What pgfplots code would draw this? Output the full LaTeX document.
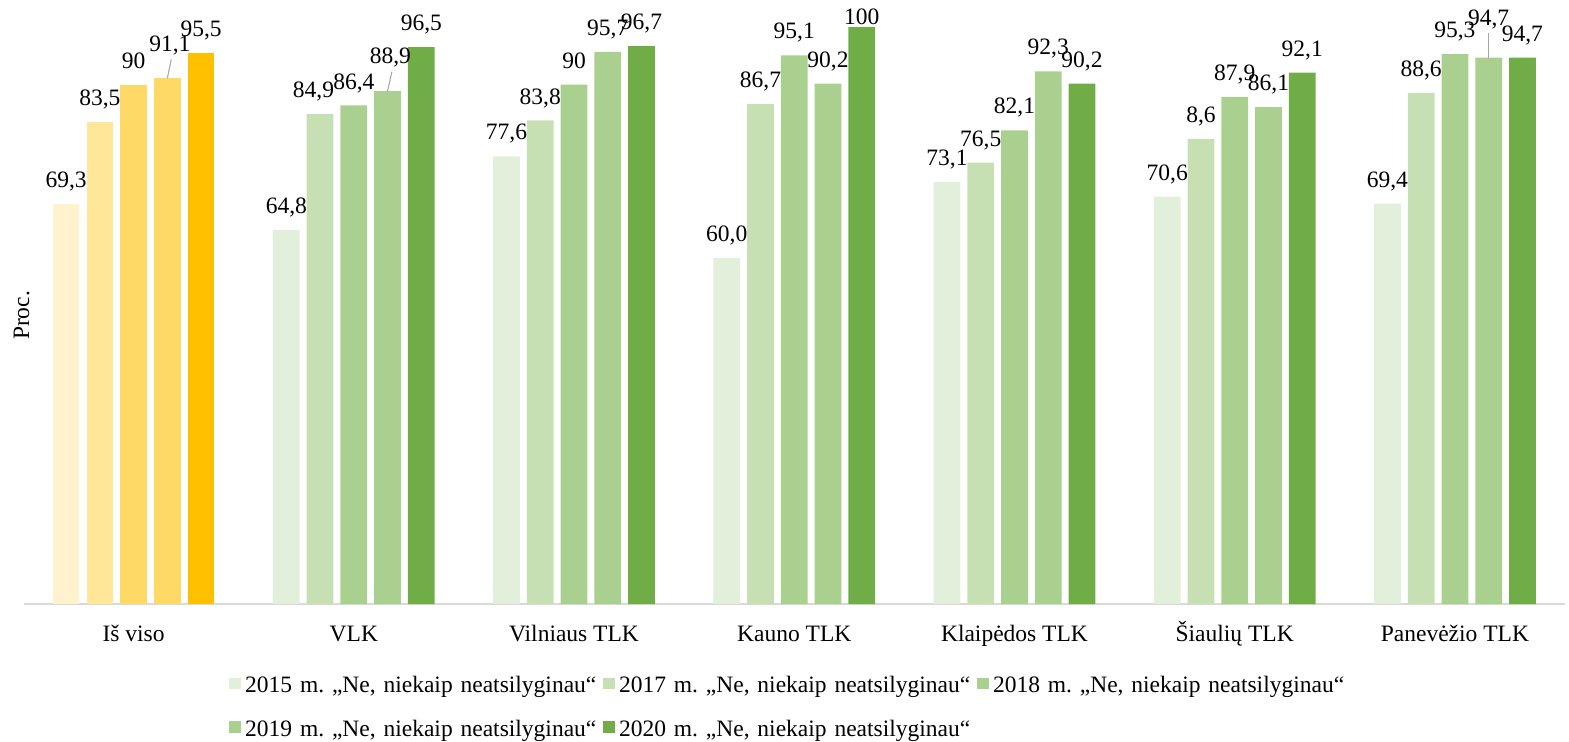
\documentclass[border=0pt]{standalone}
\usepackage{fontspec}
\setmainfont{Liberation Serif}
\usepackage{pgfplots}
\usepackage{pgfplotstable}
\pgfplotsset{compat=1.18}

\definecolor{yA}{HTML}{FFF2CC}
\definecolor{yB}{HTML}{FFE699}
\definecolor{yC}{HTML}{FFD966}
\definecolor{yD}{HTML}{FFD966}
\definecolor{yE}{HTML}{FFC000}
\definecolor{gA}{HTML}{E2EFDA}
\definecolor{gB}{HTML}{C6E0B4}
\definecolor{gC}{HTML}{A9D08E}
\definecolor{gD}{HTML}{A9D08E}
\definecolor{gE}{HTML}{70AD47}
\definecolor{axgray}{HTML}{D9D9D9}
\definecolor{leadgray}{HTML}{A6A6A6}

% x = group (1..6), y = value, lab = printed label, dx/dy = label offset (pt)
\pgfplotstableread{
x y lab dx dy
1 64.8 64,8 0 0
2 77.6 77,6 0 0
3 60.0 60,0 0 0
4 73.1 73,1 0 0
5 70.6 70,6 0 0
6 69.4 69,4 0 0
}\tabA
\pgfplotstableread{
x y lab dx dy
1 84.9 84,9 -2.8 0
2 83.8 83,8 0 0
3 86.7 86,7 0 0
4 76.5 76,5 0 0
5 80.6 8,6 0 0
6 88.6 88,6 0 0
}\tabB
\pgfplotstableread{
x y lab dx dy
1 86.4 86,4 0 0
2 90.0 90 0 0
3 95.1 95,1 0 0
4 82.1 82,1 0 0
5 87.9 87,9 0 0
6 95.3 95,3 0 0
}\tabC
\pgfplotstableread{
x y lab dx dy
1 88.9 88,9 1.2 4.65
2 95.7 95,7 0 0
3 90.2 90,2 0 0
4 92.3 92,3 0 0
5 86.1 86,1 0 0
6 94.7 94,7 0 6.7
}\tabD
\pgfplotstableread{
x y lab dx dy
1 96.5 96,5 0 0
2 96.7 96,7 0 0
3 100 100 0 -6
4 90.2 90,2 0 0
5 92.1 92,1 0 0
6 94.7 94,7 0 0
}\tabE

\pgfplotsset{
  mybar/.style 2 args={ybar, bar width=11.36pt, bar shift=#2,
    fill=#1, draw=none, forget plot,
    point meta=explicit symbolic, nodes near coords,
    every node near coord/.append style={anchor=base, xshift=#2, yshift=7pt, text=black}},
  labshift/.style={
    visualization depends on={\thisrow{dx}\as\labdx},
    visualization depends on={\thisrow{dy}\as\labdy},
    every node near coord/.append style={xshift=\labdx pt, yshift=\labdy pt}},
  leader/.style={leadgray, line width=0.45pt, no marks, forget plot},
  sq/.style={legend image code/.code={\path[fill=#1, draw=none] (0pt,-1.45pt) rectangle (5pt,3.55pt);}},
}

\begin{document}
\frenchspacing
\begin{tikzpicture}
\begin{axis}[
    width=655.9pt, height=245.5pt, scale only axis,
    xmin=-0.5, xmax=6.5, ymin=0, ymax=100,
    clip=false,
    axis x line*=bottom,
    x axis line style={draw=axgray, line width=0.6pt, -},
    y axis line style={draw=none},
    xtick={0,...,6},
    xticklabels={Iš viso, VLK, Vilniaus TLK, Kauno TLK, Klaipėdos TLK, Šiaulių TLK, Panevėžio TLK},
    xticklabel style={anchor=base, yshift=-16pt},
    ytick=\empty,
    major tick length=0pt,
    ylabel={Proc.},
    ylabel style={at={(axis description cs:0.0093,0.5)}, anchor=south, rotate=0},
    legend columns=3,
    legend cell align=left,
    legend style={at={(axis description cs:0.1333,-0.1248)}, anchor=north west,
      draw=none, fill=none, inner sep=0pt, outer sep=0pt,
      /tikz/every odd column/.append style={column sep=1.9pt},
      row sep=10.15pt,
      nodes={inner sep=0pt, text width=152.2pt, align=left}},
]
% Iš viso
\addplot[mybar={yA}{-28.72pt}] coordinates {(0,69.3) [69,3]};
\addplot[mybar={yB}{-14.36pt}] coordinates {(0,83.5) [83,5]};
\addplot[mybar={yC}{0pt}] coordinates {(0,90) [90]};
\addplot[mybar={yD}{14.36pt},
  every node near coord/.append style={xshift=1.06pt, yshift=4.3pt}] coordinates {(0,91.1) [91,1]};
\addplot[mybar={yE}{28.72pt}] coordinates {(0,95.5) [95,5]};

% territorial offices
\addplot[mybar={gA}{-28.72pt}, labshift] table[x=x, y=y, meta=lab] {\tabA};
\addplot[mybar={gB}{-14.36pt}, labshift] table[x=x, y=y, meta=lab] {\tabB};
\addplot[mybar={gC}{0pt}, labshift] table[x=x, y=y, meta=lab] {\tabC};
\addplot[mybar={gD}{14.36pt}, labshift] table[x=x, y=y, meta=lab] {\tabD};
\addplot[mybar={gE}{28.72pt}, labshift] table[x=x, y=y, meta=lab] {\tabE};

% leader lines of the moved labels
\addplot[leader] coordinates {(0.1531,91.1) (0.1712,94.4)};
\addplot[leader] coordinates {(1.1531,88.9) (1.1731,92.25)};
\addplot[leader] coordinates {(6.1531,94.7) (6.1531,98.9)};

\addlegendimage{sq=gA}
\addlegendentry{2015 m. „Ne, niekaip neatsilyginau“}
\addlegendimage{sq=gB}
\addlegendentry{2017 m. „Ne, niekaip neatsilyginau“}
\addlegendimage{sq=gC}
\addlegendentry{2018 m. „Ne, niekaip neatsilyginau“}
\addlegendimage{sq=gD}
\addlegendentry{2019 m. „Ne, niekaip neatsilyginau“}
\addlegendimage{sq=gE}
\addlegendentry{2020 m. „Ne, niekaip neatsilyginau“}
\end{axis}
\pgfresetboundingbox
\path ([shift={(-10.0pt,-58.3pt)}]current axis.south west) rectangle ([shift={(1.7pt,11.5pt)}]current axis.north east);
\end{tikzpicture}
\end{document}
